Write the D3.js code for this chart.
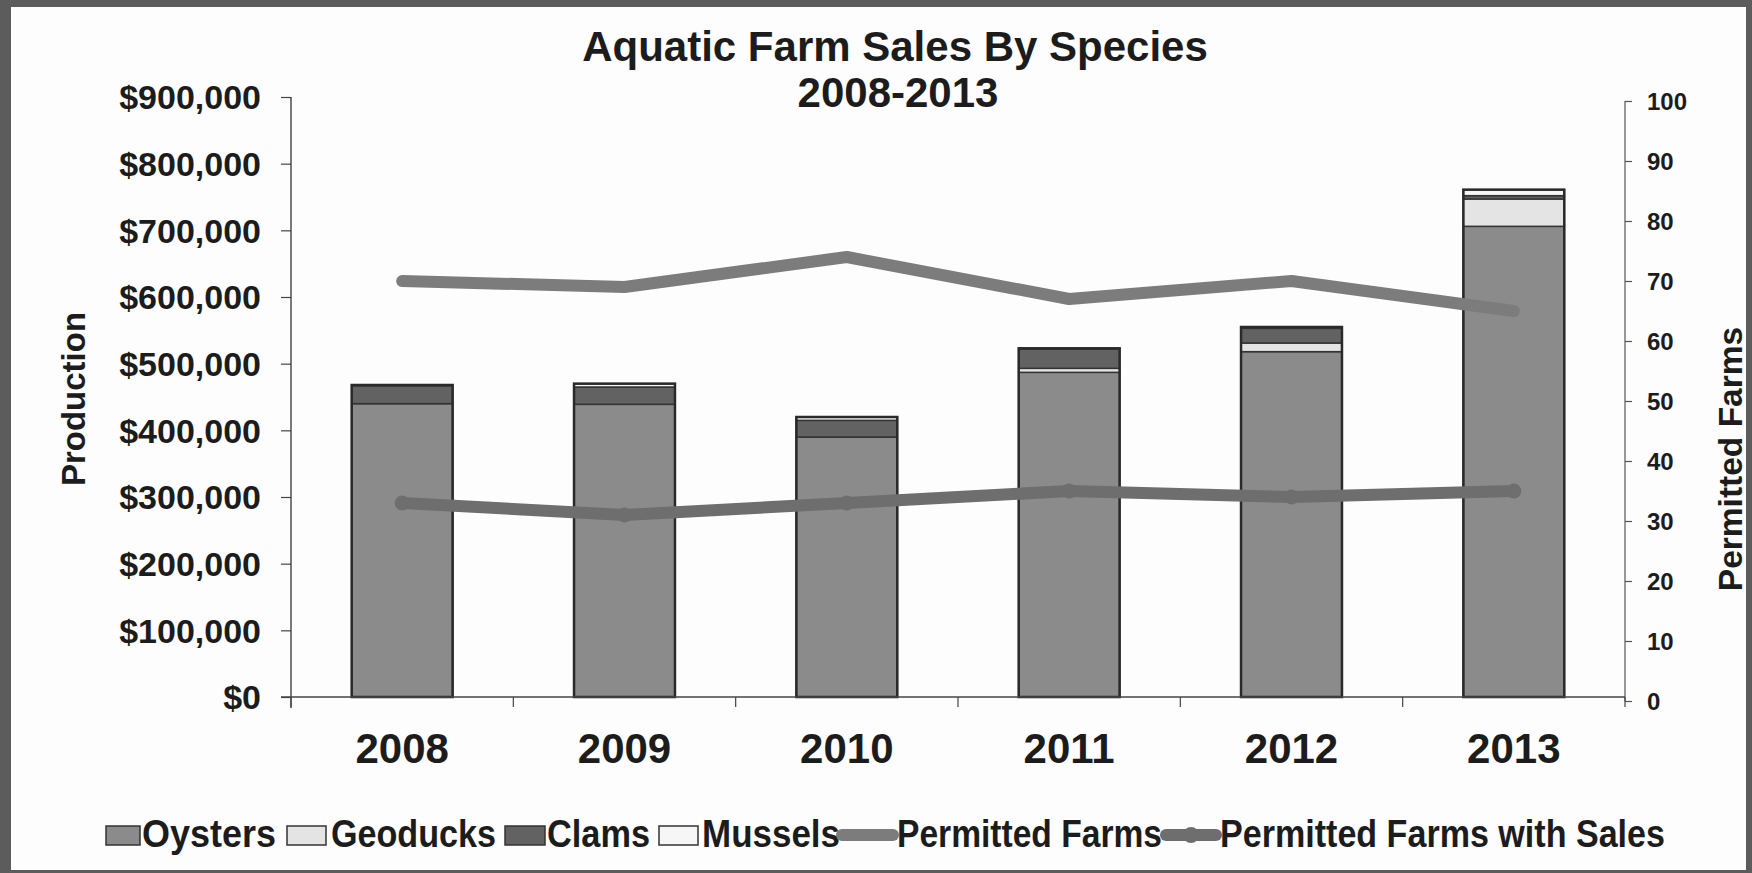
<!DOCTYPE html>
<html>
<head>
<meta charset="utf-8">
<script src="https://cdnjs.cloudflare.com/ajax/libs/d3/7.8.5/d3.min.js"></script>
<style>
  html, body { margin: 0; padding: 0; background: #fff; }
  svg { display: block; }
  text { font-family: "Liberation Sans", Arial, sans-serif; font-weight: bold; fill: #1c1c1c; }
</style>
</head>
<body>
<svg id="chart" width="1752" height="873"></svg>
<script>
// Aquatic farm sales by species, 2008-2013
const years = ["2008", "2009", "2010", "2011", "2012", "2013"];
const oysters  = [440000, 439000, 390000, 487000, 518000, 706000];
const geoducks = [0, 0, 0, 6000, 13000, 41000];
const clams    = [27000, 26000, 25000, 29000, 22000, 5000];
const mussels  = [1000, 5000, 5000, 1000, 2000, 9000];
const permittedFarms = [70, 69, 74, 67, 70, 65];
const farmsWithSales = [33, 31, 33, 35, 34, 35];
const salesTicks = [0, 100000, 200000, 300000, 400000, 500000, 600000, 700000, 800000, 900000];
const farmTicks = [0, 10, 20, 30, 40, 50, 60, 70, 80, 90, 100];

const speciesNames = ["Oysters", "Geoducks", "Clams", "Mussels"];
const speciesValues = [oysters, geoducks, clams, mussels];
const speciesColors = ["#8b8b8b", "#e4e4e4", "#626262", "#f6f6f6"];
const farmsColor = "#7c7c7c", salesFarmsColor = "#6e6e6e";

const svg = d3.select("#chart");
const W = 1752, H = 873;

// frame
svg.append("rect").attr("x", 0).attr("y", 0).attr("width", W).attr("height", H).attr("fill", "#5c5c5c");
svg.append("rect").attr("x", 11).attr("y", 7).attr("width", 1735).attr("height", 863).attr("fill", "#fdfdfd");

const plot = { left: 291, right: 1625, top: 97, bottom: 697 };

const x = d3.scaleBand().domain(years).range([plot.left, plot.right])
  .paddingInner(0.546).paddingOuter(0.273);
const yL = d3.scaleLinear().domain([0, 900000]).range([697, 97]);
const yR = d3.scaleLinear().domain([0, 100]).range([701, 101]);

// stacked data
const rows = years.map((yr, i) => {
  const r = { year: yr };
  speciesNames.forEach((s, k) => r[s] = speciesValues[k][i]);
  return r;
});
const stack = d3.stack().keys(speciesNames)(rows);

const barG = svg.append("g");
stack.forEach((layer, k) => {
  barG.selectAll(null).data(layer).enter().append("rect")
    .attr("x", d => x(d.data.year))
    .attr("width", x.bandwidth())
    .attr("y", d => yL(d[1]))
    .attr("height", d => Math.max(0, yL(d[0]) - yL(d[1])))
    .attr("fill", speciesColors[k])
    .attr("stroke", "#333")
    .attr("stroke-width", d => (d[1] - d[0]) > 0 ? 1.5 : 0);
});
// outer outline of each bar
barG.selectAll(null).data(rows).enter().append("rect")
  .attr("x", d => x(d.year))
  .attr("width", x.bandwidth())
  .attr("y", d => yL(d3.sum(speciesNames, s => d[s])))
  .attr("height", d => yL(0) - yL(d3.sum(speciesNames, s => d[s])))
  .attr("fill", "none").attr("stroke", "#2a2a2a").attr("stroke-width", 2.5);

// left axis
const axL = svg.append("g").attr("transform", `translate(${plot.left},0)`)
  .call(d3.axisLeft(yL).tickValues(salesTicks).tickFormat(d3.format("$,")).tickSize(10).tickPadding(20));
axL.select(".domain").remove();
axL.selectAll(".tick line").attr("stroke", "#444").attr("stroke-width", 1.2);
axL.selectAll(".tick text").attr("font-size", 34).attr("dy", "0.35em");
svg.append("line").attr("x1", plot.left).attr("x2", plot.left).attr("y1", 97).attr("y2", 708)
  .attr("stroke", "#333").attr("stroke-width", 1.3);

// right axis
const axR = svg.append("g").attr("transform", `translate(${plot.right},0)`)
  .call(d3.axisRight(yR).tickValues(farmTicks).tickSize(7).tickPadding(15));
axR.select(".domain").remove();
axR.selectAll(".tick line").attr("stroke", "#555").attr("stroke-width", 1.2);
axR.selectAll(".tick text").attr("font-size", 24).attr("dy", "0.35em");
svg.append("line").attr("x1", plot.right).attr("x2", plot.right).attr("y1", 101).attr("y2", 701)
  .attr("stroke", "#555").attr("stroke-width", 1.2);

// category axis
svg.append("line").attr("x1", 281).attr("x2", plot.right).attr("y1", yL(0)).attr("y2", yL(0))
  .attr("stroke", "#444").attr("stroke-width", 1.3);
d3.range(years.length + 1).forEach(i => {
  const bx = plot.left + i * x.step();
  svg.append("line").attr("x1", bx).attr("x2", bx).attr("y1", yL(0)).attr("y2", yL(0) + 10)
    .attr("stroke", "#444").attr("stroke-width", 1.2);
});
svg.append("g").selectAll("text").data(years).enter().append("text")
  .attr("x", d => x(d) + x.bandwidth() / 2)
  .attr("y", 763)
  .attr("text-anchor", "middle")
  .attr("font-size", 42)
  .text(d => d);

// farm count lines
const cx = (d, i) => x(years[i]) + x.bandwidth() / 2;
const line = d3.line().x((d, i) => cx(d, i)).y(d => yR(d));
svg.append("path").datum(permittedFarms).attr("d", line)
  .attr("fill", "none").attr("stroke", farmsColor).attr("stroke-width", 12)
  .attr("stroke-linecap", "round").attr("stroke-linejoin", "round");
svg.append("path").datum(farmsWithSales).attr("d", line)
  .attr("fill", "none").attr("stroke", salesFarmsColor).attr("stroke-width", 12)
  .attr("stroke-linecap", "round").attr("stroke-linejoin", "round");
svg.append("g").selectAll("circle").data(farmsWithSales).enter().append("circle")
  .attr("cx", (d, i) => cx(d, i)).attr("cy", d => yR(d)).attr("r", 7.5)
  .attr("fill", salesFarmsColor);

// titles
svg.append("text").attr("x", 895).attr("y", 61).attr("text-anchor", "middle").attr("font-size", 42)
  .text("Aquatic Farm Sales By Species");
svg.append("text").attr("x", 898).attr("y", 107).attr("text-anchor", "middle").attr("font-size", 42)
  .text("2008-2013");
svg.append("text").attr("transform", "translate(85,399) rotate(-90)").attr("text-anchor", "middle")
  .attr("font-size", 33).text("Production");
svg.append("text").attr("transform", "translate(1742,459) rotate(-90)").attr("text-anchor", "middle")
  .attr("font-size", 33.5).text("Permitted Farms");

// legend: swatch span and label start for each entry
const legendItems = [
  { name: "Oysters", type: "box", color: speciesColors[0], x0: 106, x1: 140, tx: 142, tw: 134 },
  { name: "Geoducks", type: "box", color: speciesColors[1], x0: 287, x1: 326, tx: 331, tw: 165 },
  { name: "Clams", type: "box", color: speciesColors[2], x0: 505, x1: 545, tx: 547, tw: 103 },
  { name: "Mussels", type: "box", color: speciesColors[3], x0: 659, x1: 698, tx: 702, tw: 138 },
  { name: "Permitted Farms", type: "line", color: farmsColor, x0: 842, x1: 893, tx: 897, tw: 265 },
  { name: "Permitted Farms with Sales", type: "marker", color: salesFarmsColor, x0: 1166, x1: 1216, tx: 1220, tw: 445 }
];
const lg = svg.append("g");
legendItems.forEach(it => {
  if (it.type === "box") {
    lg.append("rect").attr("x", it.x0).attr("y", 826).attr("width", it.x1 - it.x0).attr("height", 19)
      .attr("fill", it.color).attr("stroke", "#333").attr("stroke-width", 1.5);
  } else {
    lg.append("line").attr("x1", it.x0).attr("x2", it.x1).attr("y1", 835).attr("y2", 835)
      .attr("stroke", it.color).attr("stroke-width", 12).attr("stroke-linecap", "round");
    if (it.type === "marker") {
      lg.append("circle").attr("cx", (it.x0 + it.x1) / 2).attr("cy", 835).attr("r", 8).attr("fill", it.color);
    }
  }
  lg.append("text").attr("x", it.tx).attr("y", 847).attr("font-size", 38)
    .attr("textLength", it.tw).attr("lengthAdjust", "spacingAndGlyphs").text(it.name);
});
</script>
</body>
</html>
